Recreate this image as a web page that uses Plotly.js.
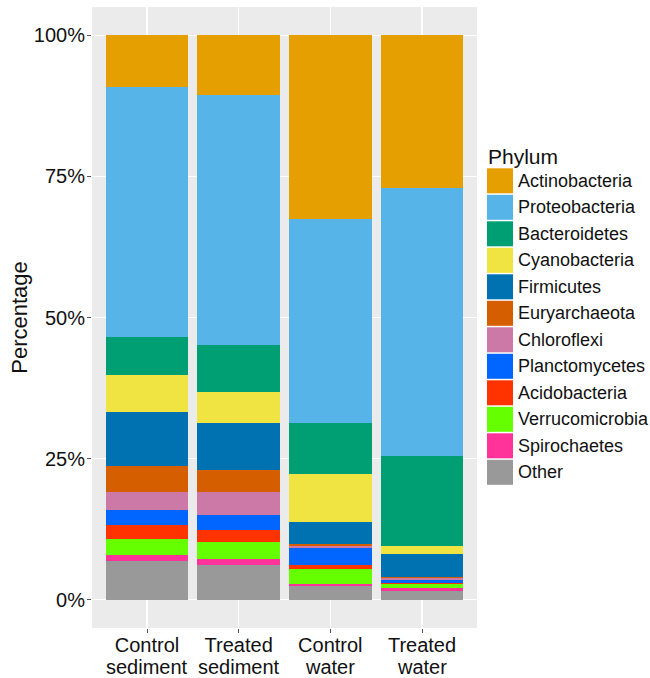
<!DOCTYPE html>
<html>
<head>
<meta charset="utf-8">
<script src="https://cdn.plot.ly/plotly-3.0.1.min.js"></script>
<style>html,body{margin:0;padding:0;background:#fff;}#chart{width:650px;height:678px;}</style>
</head>
<body>
<div id="chart"></div>
<script>
// Categories (x axis)
var categories = ["Control sediment", "Treated sediment", "Control water", "Treated water"];
var labelLine1 = ["Control", "Treated", "Control", "Treated"];
var labelLine2 = ["sediment", "sediment", "water", "water"];

// Phyla in legend order (top of stack first)
var phyla = ["Actinobacteria", "Proteobacteria", "Bacteroidetes", "Cyanobacteria", "Firmicutes",
  "Euryarchaeota", "Chloroflexi", "Planctomycetes", "Acidobacteria", "Verrucomicrobia", "Spirochaetes", "Other"];

// Percentages per phylum, for [Control sediment, Treated sediment, Control water, Treated water]
var actinobacteria  = [9.1, 10.6, 32.6, 27.1];
var proteobacteria  = [44.4, 44.3, 36.0, 47.4];
var bacteroidetes   = [6.6, 8.3, 9.1, 15.9];
var cyanobacteria   = [6.7, 5.4, 8.6, 1.5];
var firmicutes      = [9.5, 8.4, 3.8, 4.0];
var euryarchaeota   = [4.6, 3.9, 0.3, 0.3];
var chloroflexi     = [3.2, 4.1, 0.5, 0.3];
var planctomycetes  = [2.7, 2.7, 2.9, 0.6];
var acidobacteria   = [2.5, 2.0, 0.7, 0.1];
var verrucomicrobia = [2.7, 3.1, 2.7, 0.7];
var spirochaetes    = [1.2, 1.1, 0.4, 0.5];
var other           = [6.8, 6.1, 2.4, 1.6];

var yTickValues = [0, 25, 50, 75, 100];
var yTickLabels = ["0%", "25%", "50%", "75%", "100%"];

var values = [actinobacteria, proteobacteria, bacteroidetes, cyanobacteria, firmicutes,
  euryarchaeota, chloroflexi, planctomycetes, acidobacteria, verrucomicrobia, spirochaetes, other];

var colors = ["#E69F00", "#56B4E9", "#009E73", "#F0E442", "#0072B2", "#D55E00",
  "#CC79A7", "#0066FF", "#FF3300", "#66FF00", "#FF3399", "#999999"];

var FONT = "Liberation Sans, Arial, sans-serif";

// stack bottom-up: Other first
var traces = [];
for (var i = phyla.length - 1; i >= 0; i--) {
  traces.push({
    type: "bar",
    name: phyla[i],
    x: categories,
    y: values[i],
    marker: {color: colors[i], line: {width: 0}},
    showlegend: false,
    hovertemplate: "%{x}<br>" + phyla[i] + ": %{y}%<extra></extra>"
  });
}

// geometry helpers (pixel -> paper)
var W = 650, H = 678;
var mL = 92, mR = 173, mT = 7, mB = 50;
var pw = W - mL - mR, ph = H - mT - mB;
function px(x) { return (x - mL) / pw; }
function py(y) { return 1 - (y - mT) / ph; }

var shapes = [];
var annotations = [];
var keyTop0 = 168.3, keyStep = 26.5, keyH = 25;
for (var k = 0; k < phyla.length; k++) {
  var kTop = keyTop0 + k * keyStep;
  shapes.push({
    type: "rect", xref: "paper", yref: "paper",
    x0: px(487), x1: px(513), y0: py(kTop + keyH), y1: py(kTop),
    fillcolor: colors[k], line: {width: 0}
  });
  annotations.push({
    xref: "paper", yref: "paper", x: px(516), y: py(kTop + keyH / 2),
    xanchor: "left", yanchor: "middle", showarrow: false,
    text: phyla[k], font: {family: FONT, size: 18, color: "#111"}
  });
}
annotations.push({
  xref: "paper", yref: "paper", x: px(486), y: py(157),
  xanchor: "left", yanchor: "middle", showarrow: false,
  text: "Phylum", font: {family: FONT, size: 21, color: "#111"}
});
// second line of the category labels
for (var c = 0; c < categories.length; c++) {
  annotations.push({
    xref: "x", yref: "paper", x: categories[c], y: py(667),
    xanchor: "center", yanchor: "middle", showarrow: false,
    text: labelLine2[c], font: {family: FONT, size: 20, color: "#111"}
  });
}

var layout = {
  width: W, height: H,
  margin: {l: mL, r: mR, t: mT, b: mB, pad: 0},
  paper_bgcolor: "#FFFFFF",
  plot_bgcolor: "#EBEBEB",
  barmode: "stack",
  bargap: 0.1,
  showlegend: false,
  font: {family: FONT, color: "#111"},
  xaxis: {
    type: "category",
    tickvals: categories,
    ticktext: labelLine1,
    range: [-0.6, 3.6],
    showgrid: true, gridcolor: "#FFFFFF", gridwidth: 1.3,
    ticks: "outside", ticklen: 4, tickcolor: "#555", tickwidth: 1,
    ticklabelstandoff: -5,
    tickfont: {size: 20, color: "#111"},
    showline: false, zeroline: false, fixedrange: true
  },
  yaxis: {
    range: [-5, 105],
    tickvals: yTickValues,
    ticktext: yTickLabels,
    showgrid: true, gridcolor: "#FFFFFF", gridwidth: 1.3,
    ticks: "outside", ticklen: 4, tickcolor: "#555", tickwidth: 1,
    ticklabelstandoff: -2,
    tickfont: {size: 20, color: "#111"},
    title: {text: "Percentage", font: {size: 22, color: "#111"}, standoff: 0},
    showline: false, zeroline: false, fixedrange: true
  },
  shapes: shapes,
  annotations: annotations
};

Plotly.newPlot("chart", traces, layout, {displayModeBar: false, staticPlot: true});
</script>
</body>
</html>
